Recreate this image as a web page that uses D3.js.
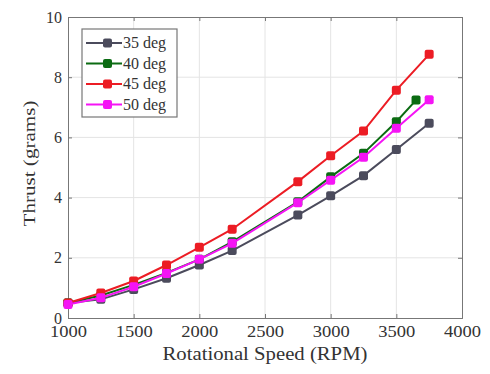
<!DOCTYPE html>
<html>
<head>
<meta charset="utf-8">
<script src="https://cdn.jsdelivr.net/npm/d3@7"></script>
<style>
  body { margin: 0; background: #fff; }
  text { font-family: "Liberation Serif", "Times New Roman", Times, serif; fill: #333; }
</style>
</head>
<body>
<svg id="chart" width="490" height="374"></svg>
<script>
const rpm = [1000, 1250, 1500, 1750, 2000, 2250, 2750, 3000, 3250, 3500, 3750]
const rpm40 = [1000, 1250, 1500, 1750, 2000, 2250, 2750, 3000, 3250, 3500, 3650]
const deg35 = [0.5, 0.62, 0.95, 1.32, 1.76, 2.24, 3.42, 4.06, 4.73, 5.6, 6.47]
const deg40 = [0.5, 0.75, 1.1, 1.5, 1.95, 2.53, 3.86, 4.69, 5.47, 6.52, 7.24]
const deg45 = [0.5, 0.83, 1.23, 1.76, 2.35, 2.95, 4.53, 5.39, 6.21, 7.57, 8.76]
const deg50 = [0.45, 0.67, 1.04, 1.48, 1.95, 2.48, 3.83, 4.58, 5.34, 6.3, 7.25]
const seriesNames = ['35 deg', '40 deg', '45 deg', '50 deg']
const xTicks = [1000, 1500, 2000, 2500, 3000, 3500, 4000]
const yTicks = [0, 2, 4, 6, 8, 10]

const colors = ['#4b4b5c', '#0b6b12', '#ec1c24', '#f514f5']
const series = [
  { name: seriesNames[0], xs: rpm, ys: deg35 },
  { name: seriesNames[1], xs: rpm40, ys: deg40 },
  { name: seriesNames[2], xs: rpm, ys: deg45 },
  { name: seriesNames[3], xs: rpm, ys: deg50 }
]

const margin = { top: 17, right: 28, bottom: 56, left: 68 }
const width = 490, height = 374
const innerWidth = width - margin.left - margin.right
const innerHeight = height - margin.top - margin.bottom

const svg = d3.select('#chart')
const g = svg.append('g').attr('transform', `translate(${margin.left},${margin.top})`)

const x = d3.scaleLinear().domain([1000, 4000]).range([0, innerWidth])
const y = d3.scaleLinear().domain([0, 10]).range([innerHeight, 0])

// grid
g.append('g').selectAll('line').data(xTicks.slice(1, -1)).join('line')
  .attr('x1', d => x(d)).attr('x2', d => x(d))
  .attr('y1', 0).attr('y2', innerHeight)
  .attr('stroke', '#e4e4e4').attr('stroke-width', 1)
g.append('g').selectAll('line').data(yTicks.slice(1, -1)).join('line')
  .attr('y1', d => y(d)).attr('y2', d => y(d))
  .attr('x1', 0).attr('x2', innerWidth)
  .attr('stroke', '#e4e4e4').attr('stroke-width', 1)

// axes (ticks inward, box)
const xAxis = g.append('g').attr('transform', `translate(0,${innerHeight})`)
  .call(d3.axisBottom(x).tickValues(xTicks).tickSize(-4).tickPadding(8).tickFormat(d3.format('d')))
xAxis.selectAll('text').attr('font-size', 16)
  .attr('textLength', 37).attr('lengthAdjust', 'spacingAndGlyphs')
const yAxis = g.append('g')
  .call(d3.axisLeft(y).tickValues(yTicks).tickSize(-4).tickPadding(6))
yAxis.selectAll('text').attr('font-size', 16)
g.append('g')
  .call(d3.axisTop(x).tickValues(xTicks).tickSize(-4).tickFormat(''))
g.append('g').attr('transform', `translate(${innerWidth},0)`)
  .call(d3.axisRight(y).tickValues(yTicks).tickSize(-4).tickFormat(''))
g.selectAll('.domain, .tick line').attr('stroke', '#777')

// lines
const line = d3.line().x(d => x(d[0])).y(d => y(d[1]))
series.forEach((s, i) => {
  const pts = s.xs.map((v, j) => [v, s.ys[j]])
  g.append('path').datum(pts)
    .attr('fill', 'none').attr('stroke', colors[i]).attr('stroke-width', 2)
    .attr('d', line)
  g.append('g').selectAll('rect').data(pts).join('rect')
    .attr('x', d => x(d[0]) - 4.5).attr('y', d => y(d[1]) - 4.5)
    .attr('width', 9).attr('height', 9).attr('rx', 2)
    .attr('fill', colors[i])
})

// legend
const legend = g.append('g').attr('transform', 'translate(14,12)')
legend.append('rect').attr('width', 95).attr('height', 88)
  .attr('fill', '#fff').attr('stroke', '#777').attr('stroke-width', 1.2)
series.forEach((s, i) => {
  const ly = 14 + i * 20.5
  legend.append('line').attr('x1', 4).attr('x2', 40).attr('y1', ly).attr('y2', ly)
    .attr('stroke', colors[i]).attr('stroke-width', 2)
  legend.append('rect').attr('x', 21).attr('y', ly - 4.5).attr('width', 9).attr('height', 9)
    .attr('rx', 2).attr('fill', colors[i])
  legend.append('text').attr('x', 41).attr('y', ly + 5)
    .attr('font-size', 16).text(s.name)
})

// axis titles
svg.append('text').attr('x', margin.left + innerWidth / 2).attr('y', 360)
  .attr('text-anchor', 'middle').attr('font-size', 18)
  .attr('textLength', 205).attr('lengthAdjust', 'spacingAndGlyphs')
  .text('Rotational Speed (RPM)')
svg.append('text').attr('transform', `translate(35,${margin.top + innerHeight / 2 - 4}) rotate(-90)`)
  .attr('text-anchor', 'middle').attr('font-size', 17)
  .attr('textLength', 126).attr('lengthAdjust', 'spacingAndGlyphs')
  .text('Thrust (grams)')
</script>
</body>
</html>
